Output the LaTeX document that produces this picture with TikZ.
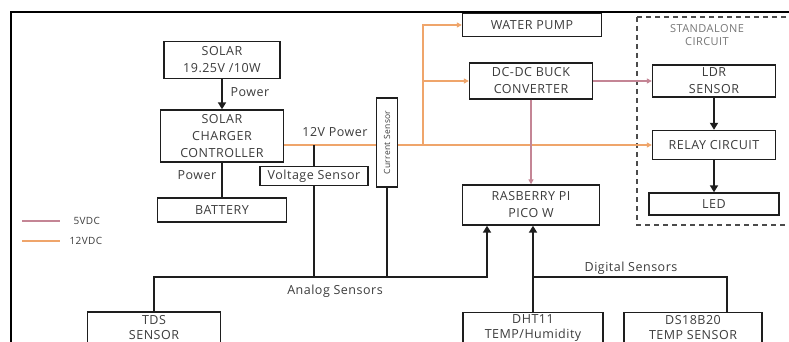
\documentclass[tikz,border=0pt]{standalone}
\usepackage{fontspec}
\setmainfont{Open Sans}[LetterSpace=4]
\usepackage{xcolor}
\usepackage{tikz}
\usetikzlibrary{arrows.meta,positioning}
\definecolor{v12}{HTML}{EFA56B}
\definecolor{v5}{HTML}{C48595}
\definecolor{ink}{HTML}{3C3C3C}
\definecolor{edge}{HTML}{1E1E1E}
\tikzset{
  blk/.style={draw=edge, line width=1.4pt, fill=white, align=center,
              inner sep=1pt, text=ink, font=\fontsize{12.5}{17}\selectfont},
  lbl/.style={text=ink, font=\fontsize{12.5}{15}\selectfont},
  sig/.style={line width=2.4pt, draw=edge},
  sigar/.style={sig, -{Triangle[length=7pt,width=8pt]}},
  pw12/.style={line width=1.6pt, draw=v12, -{Triangle[length=5pt,width=5pt]}},
  pw5/.style={line width=1.6pt, draw=v5, -{Triangle[length=5pt,width=5pt]}},
  zone/.style={draw=edge!80, line width=1.3pt, dash pattern=on 5pt off 4pt},
}

\begin{document}
\begin{tikzpicture}[x=1pt, y=-1pt]
  \clip (0,0) rectangle (789,342);
  \fill[white] (0,0) rectangle (789,342);
  % frame
  \draw[line width=2pt, draw=black] (11,345) -- (11,12) -- (792,12);

  % standalone area
  \draw[zone] (637,17) rectangle (796,225);
  \node[text=ink!70, align=center, font=\fontsize{11}{12.5}\selectfont] (zonetxt)
       at (707,35) {STANDALONE\\CIRCUIT};

  % power side
  \node[blk, minimum width=116pt, minimum height=37pt] (solar) at (222,60)
       {SOLAR\\19.25V /10W};
  \node[blk, minimum width=123pt, minimum height=52pt] (scc) at (222,136)
       {SOLAR\\CHARGER\\CONTROLLER};
  \node[blk, minimum width=129pt, minimum height=24pt] (battery) at (222,210)
       {BATTERY};
  \node[blk, minimum width=108pt, minimum height=19pt] (vsens) at (314,176)
       {Voltage Sensor};

  \node[blk, minimum width=139pt, minimum height=23pt] (pump) at (532,25)
       {WATER PUMP};
  \node[blk, minimum width=123pt, minimum height=36pt] (buck) at (531,81)
       {DC-DC BUCK\\CONVERTER};
  \node[blk, minimum width=137pt, minimum height=40pt] (pico) at (531,205)
       {RASBERRY PI\\PICO W};

  \node[blk, minimum width=123pt, minimum height=32pt] (ldr) at (714,81)
       {LDR\\SENSOR};
  \node[blk, minimum width=123pt, minimum height=29pt] (relay) at (714,145)
       {RELAY CIRCUIT};
  \node[blk, minimum width=130pt, minimum height=22pt] (led) at (714,204)
       {LED};

  % sensors (cut off by the page edge)
  \tikzset{snode/.style={blk, minimum height=31pt, font=\fontsize{12.5}{15}\selectfont}}
  \node[snode, minimum width=133pt] (tds) at (154,327.5) {TDS\\SENSOR};
  \node[snode, minimum width=140pt] (dht) at (533,328) {DHT11\\TEMP/Humidity};
  \node[snode, minimum width=138pt] (ds) at (693,328) {DS18B20\\TEMP SENSOR};

  % 12V / 5V lines
  \coordinate (tap) at (423,145);
  \draw[pw12] (scc.east |- relay.west) -- (relay.west);
  \draw[pw12] (tap) |- (pump.west);
  \draw[pw12] (tap |- buck.west) -- (buck.west);
  \draw[pw5] (buck.east) -- (ldr.west);
  \draw[pw5] (buck.south) -- (buck.south |- pico.north);

  \node[blk, rotate=90, minimum width=89pt, minimum height=21pt,
        font=\fontsize{8.5}{10}\selectfont] (csens) at (387,142.5)
       {Current Sensor};

  % power arrows
  \draw[sigar] (solar.south) -- (scc.north);
  \draw[sig] (scc.south) -- (battery.north);
  \node[lbl] (pwin) at (250,92) {Power};
  \node[lbl] (pwout) at (197,175) {Power};
  \node[lbl] (v12txt) at (335,132) {12V Power};
  \draw[sig] (vsens.north |- relay.west) -- (vsens.north);

  % analog sensors
  \coordinate (abus) at (487,277);
  \draw[sigar] (tds.north) |- (abus) -- (abus |- pico.south);
  \draw[sig] (vsens.south) -- (vsens.south |- abus);
  \draw[sig] (csens.west) -- (csens.west |- abus);
  \node[lbl] (antxt) at (335,291) {Analog Sensors};

  % digital sensors
  \coordinate (dbus) at (727,277);
  \draw[sigar] (dht.north) -- (dht.north |- pico.south);
  \draw[sig] (dht.north |- dbus) -- (dbus) -- (dbus |- ds.north);
  \node[lbl] (dgtxt) at (631,268) {Digital Sensors};

  % standalone chain
  \draw[sigar] (ldr.south) -- (relay.north);
  \draw[sigar] (relay.south) -- (led.north);

  % legend
  \draw[v5, line width=1.4pt] (22,221) -- (60,221);
  \draw[v12, line width=1.4pt] (22,241) -- (60,241);
  \node[lbl, anchor=west, font=\fontsize{10}{12}\selectfont] (k5) at (70,221) {5VDC};
  \node[lbl, anchor=west, font=\fontsize{10}{12}\selectfont] (k12) at (66,241) {12VDC};
\end{tikzpicture}
\end{document}
